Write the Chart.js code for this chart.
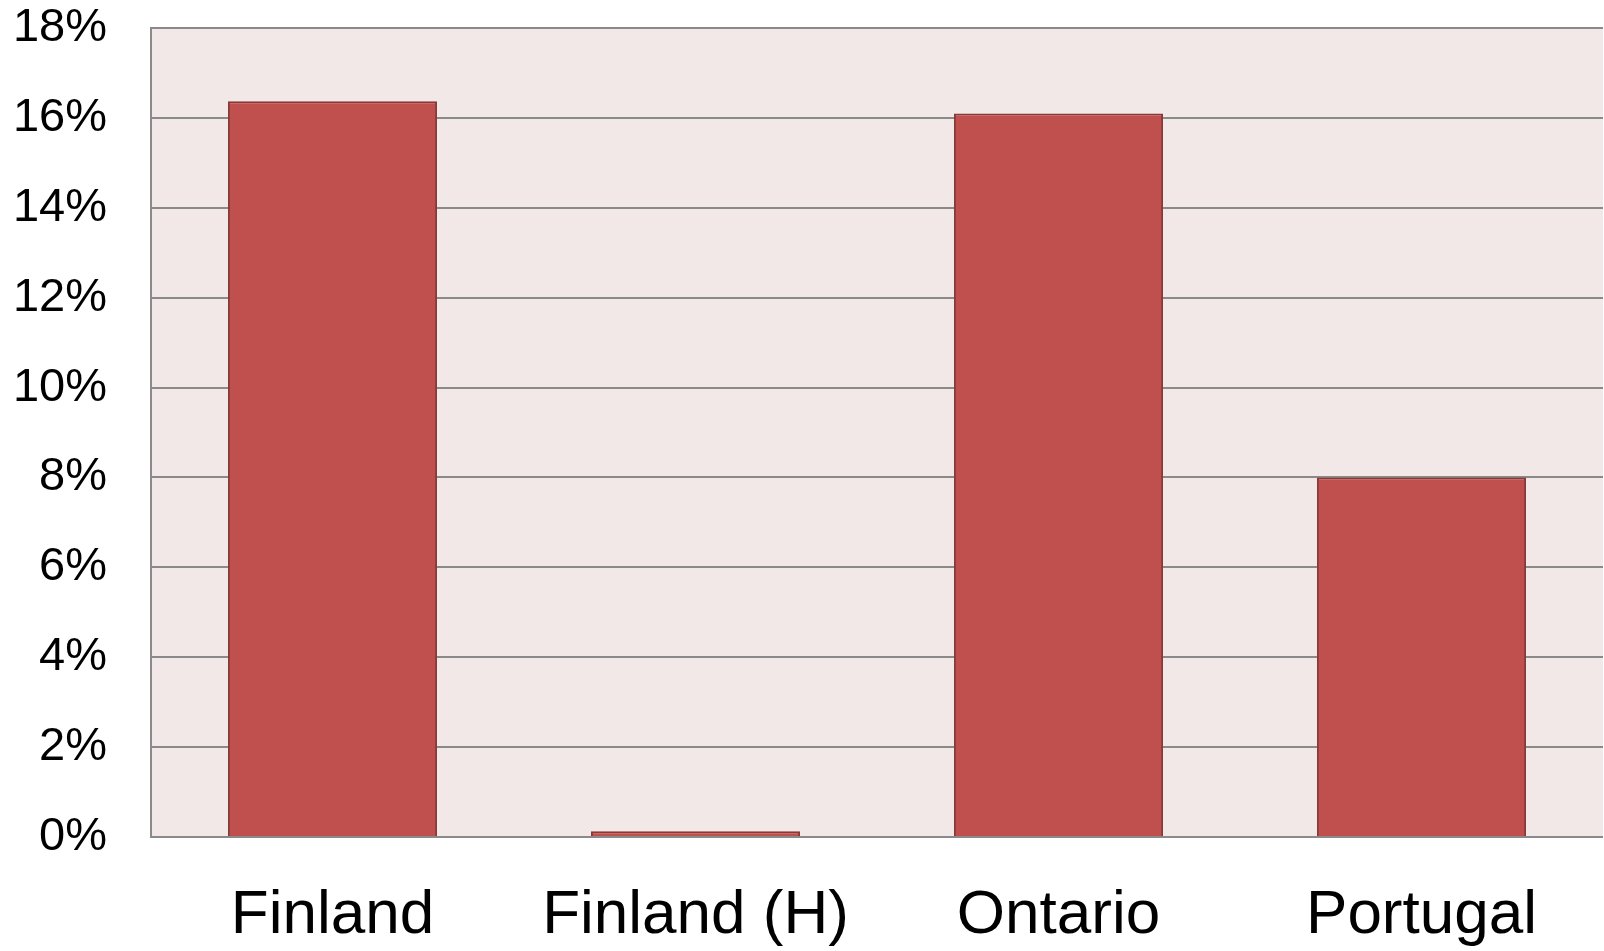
<!DOCTYPE html>
<html>
<head>
<meta charset="utf-8">
<script src="https://cdn.jsdelivr.net/npm/chart.js@4/dist/chart.umd.min.js"></script>
<style>
  html, body { margin: 0; padding: 0; background: #ffffff; }
  #wrap { width: 1604px; height: 951px; }
</style>
</head>
<body>
<div id="wrap"><canvas id="myChart" width="1604" height="951"></canvas></div>
<script>
const categories = ['Finland', 'Finland (H)', 'Ontario', 'Portugal'];
const shares = [16.37, 0.13, 16.1, 8.0];
const yMax = 18;
const yStep = 2;

// pink fill behind the plot area
const plotBackground = {
  id: 'plotBackground',
  beforeDraw(chart) {
    const a = chart.chartArea;
    const c = chart.ctx;
    c.save();
    c.fillStyle = '#f2e8e8';
    c.fillRect(a.left, a.top, a.right - a.left, a.bottom - a.top);
    c.restore();
  }
};

document.addEventListener("DOMContentLoaded", function () {
  const ctx = document.getElementById("myChart");

  new Chart(ctx, {
    type: 'bar',
    data: {
      labels: categories,
      datasets: [{
        data: shares,
        backgroundColor: '#c0504d',
        borderColor: '#8c3836',
        borderWidth: 2,
        borderSkipped: 'bottom',
        barPercentage: 0.576,
        categoryPercentage: 1
      }]
    },
    options: {
      responsive: false,
      animation: false,
      layout: { padding: { top: 28, right: 1, left: 0, bottom: 0 } },
      plugins: {
        legend: { display: false },
        tooltip: { enabled: false }
      },
      scales: {
        x: {
          grid: { display: false, drawTicks: false },
          border: { display: false },
          ticks: {
            padding: 42,
            color: '#000000',
            font: { family: 'Liberation Sans, Arial, sans-serif', size: 62 },
            maxRotation: 0
          },
          afterFit(scale) { scale.height = 114; }
        },
        y: {
          min: 0,
          max: yMax,
          grid: { color: '#8a8a8a', lineWidth: 2, drawTicks: false },
          border: { display: true, color: '#8a8a8a', width: 2 },
          ticks: {
            stepSize: yStep,
            padding: 44,
            color: '#000000',
            font: { family: 'Liberation Sans, Arial, sans-serif', size: 47 },
            callback: v => v + '%'
          },
          afterFit(scale) {
            scale.width = 151;
            // top label may overhang the plot; keep the plot top fixed by layout padding
            scale.paddingTop = 0;
            scale.paddingBottom = 0;
          }
        }
      }
    },
    plugins: [plotBackground]
  });
});
</script>
</body>
</html>
